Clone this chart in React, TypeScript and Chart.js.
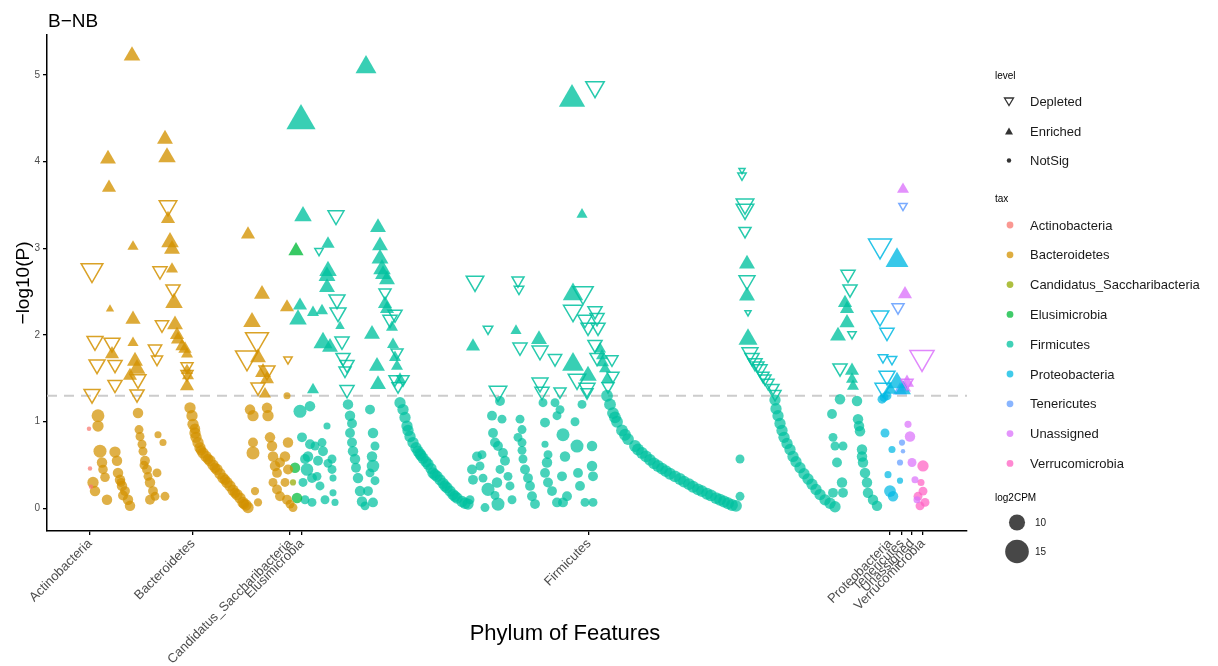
import React, { useEffect, useRef } from 'react';
import { Chart, registerables } from 'chart.js';
Chart.register(...registerables);

const FONT = '"Liberation Sans", Arial, Helvetica, sans-serif';

// Phyla (axis labels, legend) and their ggplot hue colours
const phylumNames = ['Actinobacteria', 'Bacteroidetes', 'Candidatus_Saccharibacteria', 'Elusimicrobia', 'Firmicutes', 'Proteobacteria', 'Tenericutes', 'Unassigned', 'Verrucomicrobia'];
const phylumColors = ['#F8766D', '#D39200', '#93AA00', '#00BA38', '#00C19F', '#00B9E3', '#619CFF', '#DB72FB', '#FF61C3'];
// feature-order position of each phylum label on the x axis
const phylumTickPositions = [43, 146, 243, 255, 542, 843, 855, 865, 876];
const yTickValues = [0, 1, 2, 3, 4, 5];
const pThreshold = 1.301; // -log10(0.05)
const xRange = [0, 920];
const yRange = [-0.26, 5.46];

// points: [feature position, -log10(P), log2CPM]
type Pt = [number, number, number];

const actinobacteriaNotSig: Pt[] = [[42, 0.92, 6.0], [43, 0.46, 6.0], [44, 0.25, 6.0]];

const bacteroidetesEnriched: Pt[] = [
  [85, 5.22, 8.2], [118, 4.26, 8.0], [120, 4.05, 8.5], [61, 4.03, 8.0], [62, 3.70, 7.5], [121, 3.34, 7.5], [201, 3.16, 7.5],
  [86, 3.02, 6.8], [123, 3.07, 8.5], [125, 2.99, 8.0], [125, 2.76, 7.0], [127, 2.37, 8.5], [63, 2.30, 6.3], [86, 2.18, 7.8],
  [128, 2.12, 8.0], [130, 2.00, 7.5], [131, 1.95, 7.5], [135, 1.87, 7.3], [138, 1.84, 7.3], [140, 1.78, 7.0], [86, 1.91, 6.8],
  [65, 1.78, 7.5], [88, 1.70, 8.0], [90, 1.61, 8.3], [83, 1.53, 7.5], [140, 1.59, 7.0], [141, 1.53, 7.0], [140, 1.41, 7.5],
  [215, 2.47, 8.0], [240, 2.32, 7.5], [205, 2.15, 8.5], [211, 1.74, 8.0], [216, 1.57, 8.0], [220, 1.49, 7.5], [218, 1.32, 7.0],
];
const bacteroidetesDepleted: Pt[] = [
  [121, 3.49, 8.5], [45, 2.75, 10.0], [113, 2.74, 7.5], [126, 2.53, 7.5], [115, 2.12, 7.3], [48, 1.93, 8.0], [65, 1.91, 8.0],
  [108, 1.84, 7.3], [110, 1.72, 6.8], [50, 1.66, 8.0], [68, 1.66, 7.5], [91, 1.49, 8.0], [68, 1.43, 7.5], [45, 1.32, 8.0],
  [90, 1.32, 7.5], [140, 1.55, 7.0], [140, 1.64, 7.0], [210, 1.95, 10.5], [200, 1.74, 10.5], [220, 1.59, 8.0], [211, 1.40, 7.5],
  [241, 1.72, 6.3],
];
const bacteroidetesNotSig: Pt[] = [
  [51, 1.07, 8.4], [51, 0.95, 7.8], [53, 0.66, 8.5], [55, 0.53, 7.5], [56, 0.45, 7.2], [58, 0.36, 7.2], [46, 0.30, 7.8], [48, 0.20, 7.5], [60, 0.10, 7.5],
  [68, 0.65, 7.8], [70, 0.55, 7.5], [71, 0.41, 7.5], [73, 0.33, 7.5], [75, 0.26, 7.5], [78, 0.20, 7.3], [81, 0.10, 7.5], [83, 0.03, 7.5], [76, 0.15, 7.3], [74, 0.30, 7.0],
  [91, 1.10, 7.5], [92, 0.91, 7.0], [93, 0.83, 7.0], [95, 0.74, 7.0], [96, 0.66, 7.0], [98, 0.55, 7.3], [100, 0.45, 7.3], [101, 0.37, 7.0], [103, 0.30, 7.5],
  [106, 0.20, 7.3], [108, 0.14, 7.0], [103, 0.10, 7.3], [111, 0.85, 6.5], [116, 0.76, 6.5], [110, 0.41, 7.0], [118, 0.14, 7.0], [97, 0.50, 7.0],
  [143, 1.16, 7.8], [145, 1.07, 7.8], [146, 0.97, 7.8], [148, 0.87, 7.8], [149, 0.82, 7.8], [151, 0.76, 7.8], [153, 0.70, 7.8], [156, 0.64, 7.8],
  [159, 0.60, 7.8], [163, 0.55, 7.8], [166, 0.50, 7.8], [170, 0.45, 7.8], [173, 0.40, 7.8], [176, 0.35, 7.8], [180, 0.30, 7.8], [183, 0.26, 7.8],
  [186, 0.21, 7.8], [190, 0.16, 7.8], [193, 0.12, 7.8], [196, 0.07, 7.8], [199, 0.04, 7.8], [201, 0.01, 7.8], [148, 0.92, 7.5], [154, 0.67, 7.5],
  [161, 0.57, 7.5], [168, 0.47, 7.5], [178, 0.33, 7.5], [188, 0.18, 7.5], [197, 0.05, 7.5],
  [203, 1.14, 7.5], [206, 1.07, 7.8], [220, 1.16, 7.5], [221, 1.07, 7.8], [206, 0.76, 7.3], [206, 0.64, 8.5], [223, 0.82, 7.5], [225, 0.72, 7.5],
  [226, 0.60, 7.5], [228, 0.49, 7.5], [230, 0.41, 7.3], [233, 0.53, 7.3], [241, 0.76, 7.5], [238, 0.60, 7.5], [241, 0.45, 7.3], [226, 0.30, 7.0],
  [230, 0.22, 7.3], [233, 0.14, 7.3], [240, 0.10, 7.3], [246, 0.01, 7.0], [208, 0.20, 6.8], [211, 0.07, 6.8], [240, 1.30, 6.5], [238, 0.30, 7.0], [243, 0.05, 7.0],
];

const saccharibacteriaNotSig: Pt[] = [[246, 0.30, 6.3]];

const elusimicrobiaEnriched: Pt[] = [[249, 2.97, 7.8]];
const elusimicrobiaNotSig: Pt[] = [[248, 0.47, 7.5], [250, 0.12, 7.5]];

const firmicutesEnriched: Pt[] = [
  [254, 4.47, 13.5], [319, 5.09, 9.7], [525, 4.72, 12.0], [256, 3.37, 8.5], [281, 3.05, 7.3], [535, 3.39, 6.8], [331, 3.24, 8.0],
  [333, 3.03, 8.0], [333, 2.88, 8.3], [335, 2.76, 8.5], [281, 2.74, 8.5], [336, 2.70, 8.0], [340, 2.64, 8.0], [280, 2.68, 8.3],
  [280, 2.55, 8.0], [253, 2.34, 7.5], [251, 2.18, 8.5], [266, 2.26, 7.0], [275, 2.28, 7.0], [276, 1.91, 9.0], [283, 1.86, 8.0],
  [293, 2.10, 6.5], [266, 1.37, 7.0], [325, 2.01, 8.0], [330, 1.64, 8.0], [331, 1.43, 8.0], [338, 2.36, 7.5], [340, 2.30, 7.5],
  [345, 2.09, 7.0], [346, 1.89, 7.0], [348, 1.74, 7.0], [350, 1.64, 7.0], [353, 1.49, 7.0], [426, 1.87, 7.5], [469, 2.05, 6.8],
  [492, 1.95, 8.0], [526, 2.47, 9.5], [526, 1.66, 10.0], [541, 1.53, 8.5], [553, 1.84, 7.0], [555, 1.76, 7.0], [556, 1.68, 7.0],
  [558, 1.61, 7.0], [560, 1.49, 7.0], [700, 2.82, 8.0], [700, 2.45, 8.0], [701, 1.95, 9.0], [798, 2.37, 7.5], [800, 2.30, 7.5],
  [800, 2.14, 7.8], [791, 1.99, 8.0], [805, 1.59, 7.5], [805, 1.49, 7.0], [806, 1.41, 7.0],
];
const firmicutesDepleted: Pt[] = [
  [548, 4.86, 8.8], [289, 3.38, 8.0], [272, 2.97, 6.3], [290, 2.41, 8.0], [291, 2.26, 8.0], [295, 1.93, 7.5], [296, 1.74, 7.5],
  [300, 1.66, 7.5], [298, 1.59, 7.0], [300, 1.37, 7.5], [338, 2.49, 7.0], [343, 2.18, 7.5], [348, 2.24, 7.5], [350, 1.80, 7.0],
  [348, 1.49, 7.0], [356, 1.49, 7.0], [351, 1.41, 7.0], [428, 2.62, 8.5], [471, 2.63, 7.0], [472, 2.53, 6.5], [441, 2.07, 6.5],
  [473, 1.86, 7.5], [493, 1.82, 8.0], [508, 1.73, 7.3], [451, 1.35, 8.5], [493, 1.45, 8.0], [495, 1.35, 7.5], [513, 1.35, 7.0],
  [540, 1.34, 7.0], [536, 2.49, 9.5], [526, 2.28, 9.0], [530, 1.49, 8.5], [540, 1.39, 8.0], [548, 2.28, 7.5], [550, 2.20, 7.5],
  [538, 2.18, 7.5], [541, 2.09, 7.5], [551, 2.09, 7.5], [548, 1.89, 7.5], [550, 1.74, 7.5], [565, 1.72, 7.0], [566, 1.53, 7.0],
  [561, 1.41, 7.0], [695, 3.90, 6.0], [695, 3.84, 6.3], [698, 3.51, 8.5], [698, 3.45, 8.5], [698, 3.20, 7.0], [700, 2.63, 8.0],
  [701, 2.26, 6.0], [703, 1.80, 8.0], [705, 1.74, 7.5], [708, 1.68, 7.5], [711, 1.65, 7.0], [713, 1.61, 7.5], [716, 1.53, 7.0],
  [718, 1.50, 7.0], [721, 1.45, 7.0], [726, 1.39, 7.0], [728, 1.32, 7.0], [801, 2.70, 7.5], [803, 2.53, 7.5], [805, 2.01, 6.3],
  [793, 1.62, 7.5],
];
const firmicutesNotSig: Pt[] = [
  [253, 1.12, 8.5], [263, 1.18, 7.5], [255, 0.82, 7.3], [263, 0.74, 7.3], [268, 0.72, 7.0], [275, 0.76, 7.0], [276, 0.66, 7.3], [280, 0.95, 6.5],
  [258, 0.57, 7.3], [260, 0.45, 8.3], [265, 0.35, 7.3], [270, 0.37, 7.0], [273, 0.26, 7.0], [278, 0.10, 7.0], [265, 0.07, 7.0], [285, 0.57, 7.0],
  [285, 0.45, 7.0], [286, 0.35, 6.5], [286, 0.18, 6.5], [288, 0.07, 6.5], [256, 0.30, 7.0], [258, 0.10, 7.0], [271, 0.55, 7.3], [281, 0.52, 7.0], [261, 0.60, 7.5],
  [301, 1.20, 7.5], [303, 1.07, 7.5], [303, 0.87, 7.3], [305, 0.76, 7.3], [306, 0.66, 7.5], [308, 0.57, 7.5], [309, 0.47, 7.3], [311, 0.35, 7.5],
  [313, 0.20, 7.5], [315, 0.08, 7.5], [318, 0.03, 7.0], [305, 0.98, 7.3],
  [323, 1.14, 7.3], [326, 0.87, 7.5], [328, 0.72, 7.0], [325, 0.60, 7.5], [326, 0.49, 8.3], [323, 0.41, 7.0], [328, 0.32, 7.0], [321, 0.20, 7.3], [326, 0.07, 7.3],
  [353, 1.22, 7.8], [356, 1.14, 7.8], [358, 1.05, 7.8], [360, 0.95, 7.8], [361, 0.90, 7.8], [363, 0.83, 7.8], [366, 0.76, 7.8], [369, 0.70, 7.8],
  [371, 0.66, 7.8], [373, 0.63, 7.8], [374, 0.61, 7.8], [376, 0.58, 7.8], [379, 0.54, 7.8], [381, 0.51, 7.8], [384, 0.46, 7.8], [386, 0.41, 7.8],
  [388, 0.39, 7.8], [390, 0.37, 7.8], [393, 0.33, 7.8], [396, 0.29, 7.8], [398, 0.26, 7.8], [400, 0.24, 7.8], [403, 0.20, 7.8], [406, 0.16, 7.8],
  [408, 0.14, 7.8], [410, 0.12, 7.8], [415, 0.08, 7.8], [418, 0.06, 7.8], [421, 0.05, 7.8],
  [430, 0.60, 7.3], [425, 0.45, 7.3], [426, 0.33, 7.3], [435, 0.62, 7.0], [433, 0.49, 7.0], [436, 0.35, 7.0], [441, 0.22, 8.5], [438, 0.01, 7.0], [423, 0.10, 7.0],
  [453, 1.24, 7.3], [445, 1.07, 7.3], [455, 1.03, 7.0], [446, 0.87, 7.3], [448, 0.76, 7.3], [451, 0.72, 7.3], [456, 0.64, 7.3], [458, 0.55, 7.3],
  [450, 0.30, 7.5], [451, 0.05, 8.5], [461, 0.37, 7.0], [463, 0.26, 7.0], [465, 0.10, 7.0], [453, 0.45, 7.0], [448, 0.15, 7.0],
  [473, 1.03, 7.0], [475, 0.91, 7.0], [471, 0.82, 7.0], [475, 0.76, 7.0], [476, 0.57, 7.0], [478, 0.45, 7.3], [481, 0.35, 7.3], [483, 0.26, 7.3],
  [485, 0.14, 7.3], [488, 0.05, 7.3], [475, 0.67, 7.0],
  [496, 1.22, 7.0], [508, 1.22, 7.0], [498, 0.99, 7.3], [510, 1.07, 7.0], [513, 1.14, 7.0], [498, 0.74, 6.5], [500, 0.53, 7.5], [498, 0.41, 7.3],
  [501, 0.30, 7.3], [505, 0.20, 7.3], [510, 0.07, 7.3], [501, 0.62, 7.0],
  [516, 0.85, 8.5], [518, 0.60, 7.5], [515, 0.37, 7.3], [520, 0.14, 7.3], [516, 0.07, 7.3], [530, 0.72, 8.5], [545, 0.72, 7.5], [545, 0.49, 7.5],
  [546, 0.37, 7.3], [531, 0.41, 7.3], [533, 0.26, 7.3], [538, 0.07, 7.0], [546, 0.07, 7.0], [535, 1.20, 7.0], [528, 1.00, 7.0],
  [560, 1.30, 8.0], [563, 1.20, 8.0], [566, 1.10, 8.0], [568, 1.05, 8.0], [570, 1.00, 8.0], [575, 0.90, 8.0], [578, 0.85, 8.0], [581, 0.80, 8.0],
  [588, 0.72, 8.0], [591, 0.68, 8.0], [595, 0.64, 8.0], [599, 0.60, 8.0], [603, 0.56, 8.0], [607, 0.52, 8.0], [611, 0.49, 8.0], [615, 0.46, 8.0],
  [619, 0.43, 8.0], [623, 0.40, 8.0], [628, 0.37, 8.0], [633, 0.34, 8.0], [637, 0.31, 8.0], [642, 0.28, 8.0], [646, 0.25, 8.0], [651, 0.22, 8.0],
  [655, 0.20, 8.0], [660, 0.17, 8.0], [664, 0.15, 8.0], [669, 0.12, 8.0], [673, 0.10, 8.0], [677, 0.08, 8.0], [681, 0.06, 8.0], [685, 0.04, 8.0], [689, 0.03, 8.0],
  [693, 0.57, 7.0], [693, 0.14, 7.0],
  [728, 1.25, 7.8], [729, 1.15, 7.8], [731, 1.07, 7.8], [733, 0.98, 7.8], [735, 0.90, 7.8], [737, 0.82, 7.8], [740, 0.75, 7.8], [743, 0.68, 7.8],
  [746, 0.60, 7.8], [749, 0.54, 7.8], [753, 0.47, 7.8], [757, 0.40, 7.8], [761, 0.34, 7.8], [765, 0.28, 7.8], [769, 0.22, 7.8], [773, 0.16, 7.8],
  [778, 0.10, 7.8], [783, 0.06, 7.8], [788, 0.02, 7.8],
  [793, 1.26, 7.5], [785, 1.09, 7.3], [786, 0.82, 7.0], [788, 0.72, 7.0], [796, 0.72, 7.0], [790, 0.53, 7.3], [795, 0.30, 7.5], [786, 0.18, 7.3],
  [796, 0.18, 7.3], [810, 1.24, 7.5], [811, 1.03, 7.5], [813, 0.89, 7.5], [815, 0.68, 7.5], [816, 0.53, 7.5], [818, 0.41, 7.5], [820, 0.30, 7.5],
  [821, 0.18, 7.5], [826, 0.10, 7.5], [830, 0.03, 7.5], [815, 0.60, 7.5], [812, 0.95, 7.5],
];

const proteobacteriaEnriched: Pt[] = [[850, 2.86, 10.5], [850, 1.45, 9.0], [856, 1.37, 8.0], [843, 1.37, 7.5]];
const proteobacteriaDepleted: Pt[] = [[833, 3.03, 10.5], [833, 2.22, 8.5], [840, 2.03, 7.5], [836, 1.74, 6.5], [845, 1.72, 6.5], [840, 1.53, 8.0], [836, 1.39, 8.0]];
const proteobacteriaNotSig: Pt[] = [[835, 1.26, 7.0], [840, 1.30, 7.0], [838, 0.87, 7.0], [845, 0.68, 6.5], [841, 0.39, 6.5], [843, 0.20, 8.0], [846, 0.14, 7.5], [853, 0.32, 6.3], [837, 1.28, 7.0]];

const tenericutesEnriched: Pt[] = [[853, 1.36, 7.5]];
const tenericutesDepleted: Pt[] = [[851, 2.32, 7.0], [856, 3.49, 6.3]];
const tenericutesNotSig: Pt[] = [[855, 0.76, 6.3], [853, 0.53, 6.3], [856, 0.66, 6.0]];

const unassignedEnriched: Pt[] = [[856, 3.68, 7.0], [858, 2.47, 7.5], [860, 1.45, 7.5], [858, 1.39, 7.0]];
const unassignedDepleted: Pt[] = [[875, 1.74, 11.0], [860, 1.45, 7.0]];
const unassignedNotSig: Pt[] = [[861, 0.97, 6.5], [863, 0.83, 7.5], [865, 0.53, 7.0], [868, 0.33, 6.5], [870, 0.10, 6.5]];

const verrucomicrobiaNotSig: Pt[] = [[876, 0.49, 7.8], [876, 0.20, 7.0], [878, 0.07, 7.0], [871, 0.14, 7.0], [873, 0.03, 7.0], [874, 0.30, 6.5]];

const seriesByPhylum: { notSig: Pt[]; enriched: Pt[]; depleted: Pt[] }[] = [
  { notSig: actinobacteriaNotSig, enriched: [], depleted: [] },
  { notSig: bacteroidetesNotSig, enriched: bacteroidetesEnriched, depleted: bacteroidetesDepleted },
  { notSig: saccharibacteriaNotSig, enriched: [], depleted: [] },
  { notSig: elusimicrobiaNotSig, enriched: elusimicrobiaEnriched, depleted: [] },
  { notSig: firmicutesNotSig, enriched: firmicutesEnriched, depleted: firmicutesDepleted },
  { notSig: proteobacteriaNotSig, enriched: proteobacteriaEnriched, depleted: proteobacteriaDepleted },
  { notSig: tenericutesNotSig, enriched: tenericutesEnriched, depleted: tenericutesDepleted },
  { notSig: unassignedNotSig, enriched: unassignedEnriched, depleted: unassignedDepleted },
  { notSig: verrucomicrobiaNotSig, enriched: [], depleted: [] },
];

const sizeLegendValues = [10, 15];

// size scale: log2CPM -> circle radius (area-proportional), triangles scaled like R pch 17
const circleRadius = (cpm: number) => Math.sqrt(Math.max(4, 15 * cpm - 85));
const triangleRadius = (cpm: number) => circleRadius(cpm) * 1.555;

const rgba = (hex: string, a: number) => {
  const n = parseInt(hex.slice(1), 16);
  return `rgba(${(n >> 16) & 255},${(n >> 8) & 255},${n & 255},${a})`;
};

function buildDatasets() {
  const ds: any[] = [];
  ds.push({
    type: 'line',
    label: 'p = 0.05',
    data: [{ x: xRange[0], y: pThreshold }, { x: xRange[1], y: pThreshold }],
    borderColor: '#cccccc',
    borderWidth: 2,
    borderDash: [10, 7],
    pointRadius: 0,
    fill: false,
    order: 10,
  });
  phylumNames.forEach((name, i) => {
    const s = seriesByPhylum[i];
    const col = phylumColors[i];
    if (s.notSig.length) {
      ds.push({
        label: `${name} NotSig`,
        data: s.notSig.map(([x, y]) => ({ x, y })),
        pointStyle: 'circle',
        pointRadius: s.notSig.map((p) => circleRadius(p[2])),
        backgroundColor: rgba(col, 0.72),
        borderWidth: 0,
        order: 3,
      });
    }
    if (s.enriched.length) {
      ds.push({
        label: `${name} Enriched`,
        data: s.enriched.map(([x, y]) => ({ x, y })),
        pointStyle: 'triangle',
        pointRadius: s.enriched.map((p) => triangleRadius(p[2])),
        backgroundColor: rgba(col, 0.78),
        borderWidth: 0,
        order: 2,
      });
    }
    if (s.depleted.length) {
      ds.push({
        label: `${name} Depleted`,
        data: s.depleted.map(([x, y]) => ({ x, y })),
        pointStyle: 'triangle',
        rotation: 180,
        pointRadius: s.depleted.map((p) => triangleRadius(p[2])),
        backgroundColor: 'rgba(0,0,0,0)',
        borderColor: rgba(col, 0.85),
        borderWidth: 1.5,
        order: 1,
      });
    }
  });
  return ds;
}

export default function App() {
  const canvasRef = useRef<HTMLCanvasElement | null>(null);

  useEffect(() => {
    if (!canvasRef.current) return;
    const chart = new Chart(canvasRef.current, {
      type: 'scatter',
      data: { datasets: buildDatasets() },
      options: {
        responsive: false,
        animation: false,
        layout: { padding: { left: 0, top: 35, right: 251, bottom: 0 } },
        plugins: { legend: { display: false }, tooltip: { enabled: false }, title: { display: false } },
        scales: {
          x: {
            type: 'linear',
            min: xRange[0],
            max: xRange[1],
            afterBuildTicks: (ax: any) => {
              ax.ticks = phylumTickPositions.map((v) => ({ value: v }));
            },
            afterFit: (ax: any) => {
              ax.height = 135;
            },
            ticks: {
              autoSkip: false,
              minRotation: 45,
              maxRotation: 45,
              padding: 1,
              color: '#4d4d4d',
              font: { family: FONT, size: 13 },
              callback: (_v: any, i: number) => phylumNames[i],
            },
            grid: { drawOnChartArea: false, drawTicks: true, tickLength: 4, color: '#000', lineWidth: 1.3 },
            border: { display: true, color: '#000', width: 1.5 },
          },
          y: {
            type: 'linear',
            min: yRange[0],
            max: yRange[1],
            afterBuildTicks: (ax: any) => {
              ax.ticks = yTickValues.map((v) => ({ value: v }));
            },
            afterFit: (ax: any) => {
              ax.width = 47;
            },
            ticks: {
              padding: 3,
              color: '#4d4d4d',
              font: { family: FONT, size: 10 },
              callback: (v: any) => String(v),
            },
            grid: { drawOnChartArea: false, drawTicks: true, tickLength: 4, color: '#000', lineWidth: 1.3 },
            border: { display: true, color: '#000', width: 1.5 },
          },
        },
      } as any,
    });
    return () => chart.destroy();
  }, []);

  const levelItems = [
    { label: 'Depleted', y: 101.5 },
    { label: 'Enriched', y: 131 },
    { label: 'NotSig', y: 160.5 },
  ];
  const taxY0 = 225;
  const taxStep = 29.8;
  const sizeY = [522.5, 551.5];

  return (
    <div style={{ position: 'fixed', left: 0, top: 0, width: 1218, height: 666, background: '#fff' }}>
      <canvas ref={canvasRef} width={1218} height={666} style={{ position: 'absolute', left: 0, top: 0, width: 1218, height: 666 }} />
      <svg width={1218} height={666} style={{ position: 'absolute', left: 0, top: 0, pointerEvents: 'none' }} fontFamily={FONT}>
        <text x={48} y={27} fontSize={19} fill="#000">B−NB</text>
        <text transform="translate(22,283) rotate(-90)" textAnchor="middle" dominantBaseline="central" fontSize={19} fill="#000">−log10(P)</text>
        <text x={565} y={640} textAnchor="middle" fontSize={22} fill="#000">Phylum of Features</text>

        <text x={995} y={79} fontSize={10} fill="#000">level</text>
        {levelItems.map((it, i) => (
          <g key={it.label}>
            {i === 0 && <polygon points={`${1004.5},${it.y - 3.5} ${1013.5},${it.y - 3.5} ${1009},${it.y + 4}`} fill="none" stroke="#333" strokeWidth={1.3} />}
            {i === 1 && <polygon points={`${1005},${it.y + 3.5} ${1013},${it.y + 3.5} ${1009},${it.y - 3.5}`} fill="#333" />}
            {i === 2 && <circle cx={1009} cy={it.y} r={2.2} fill="#333" />}
            <text x={1030} y={it.y + 4.6} fontSize={13} fill="#1a1a1a">{it.label}</text>
          </g>
        ))}

        <text x={995} y={202} fontSize={10} fill="#000">tax</text>
        {phylumNames.map((name, i) => (
          <g key={name}>
            <circle cx={1010} cy={taxY0 + i * taxStep} r={3.4} fill={phylumColors[i]} fillOpacity={0.75} />
            <text x={1030} y={taxY0 + i * taxStep + 4.6} fontSize={13} fill="#1a1a1a">{name}</text>
          </g>
        ))}

        <text x={995} y={501} fontSize={10} fill="#000">log2CPM</text>
        {sizeLegendValues.map((v, i) => (
          <g key={v}>
            <circle cx={1017} cy={sizeY[i]} r={circleRadius(v)} fill="#000" fillOpacity={0.72} />
            <text x={1035} y={sizeY[i] + 3.5} fontSize={10} fill="#1a1a1a">{v}</text>
          </g>
        ))}
      </svg>
    </div>
  );
}
